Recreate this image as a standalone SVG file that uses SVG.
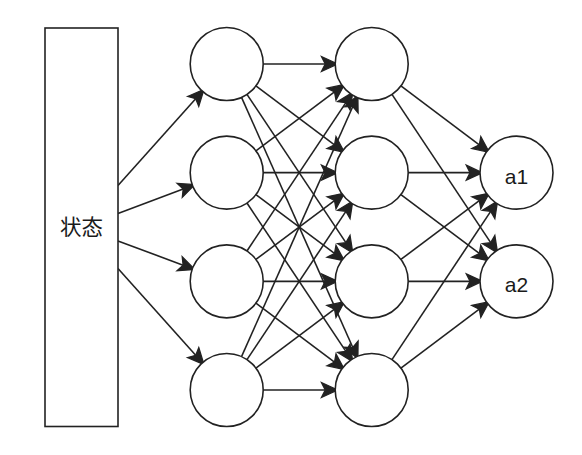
<svg xmlns="http://www.w3.org/2000/svg" width="582" height="455" viewBox="0 0 582 455">
<style>
.n{fill:#fff;stroke:#222;stroke-width:1.6}
.e{fill:none;stroke:#222;stroke-width:1.6;marker-end:url(#ah)}
.t{font-family:"Liberation Sans","Noto Sans CJK SC",Arial,sans-serif;font-size:21px;fill:#1a1a1a;text-anchor:middle}
.c{font-size:21.5px}
</style>
<defs>
<marker id="ah" markerUnits="userSpaceOnUse" markerWidth="20" markerHeight="20" refX="3" refY="0" orient="auto" viewBox="-1 -7 16 14" overflow="visible">
<path d="M0,-6 L13,0 L0,6 L3,0 Z" fill="#222" stroke="#222" stroke-width="1" stroke-linejoin="miter"/>
</marker>
</defs>
<rect width="582" height="455" fill="#fff"/>
<g id="connectors">
<path class="e" d="M118,185.5 L195.69,98.66"/>
<path class="e" d="M118,213.5 L183.16,189.04"/>
<path class="e" d="M118,241 L183.1,265.13"/>
<path class="e" d="M118,268.5 L195.69,355.34"/>
<path class="e" d="M263.2,64 L325.2,64"/>
<path class="e" d="M255.91,85.89 L334.49,144.78"/>
<path class="e" d="M246.96,94.36 L345.89,242.65"/>
<path class="e" d="M241.53,97.35 L352.8,347.51"/>
<path class="e" d="M255.91,150.78 L334.49,91.89"/>
<path class="e" d="M263.2,172.67 L325.2,172.67"/>
<path class="e" d="M255.91,194.56 L334.49,253.44"/>
<path class="e" d="M246.96,203.03 L345.89,351.32"/>
<path class="e" d="M246.96,250.97 L345.89,102.68"/>
<path class="e" d="M255.91,259.44 L334.49,200.56"/>
<path class="e" d="M263.2,281.33 L325.2,281.33"/>
<path class="e" d="M255.91,303.22 L334.49,362.11"/>
<path class="e" d="M241.53,356.65 L352.8,106.49"/>
<path class="e" d="M246.96,359.64 L345.89,211.35"/>
<path class="e" d="M255.91,368.11 L334.49,309.22"/>
<path class="e" d="M263.2,390 L325.2,390"/>
<path class="e" d="M400.91,85.89 L479.29,144.78"/>
<path class="e" d="M391.96,94.36 L490.69,242.65"/>
<path class="e" d="M408.2,172.67 L470,172.67"/>
<path class="e" d="M400.91,194.56 L479.29,253.44"/>
<path class="e" d="M400.91,259.44 L479.29,200.56"/>
<path class="e" d="M408.2,281.33 L470,281.33"/>
<path class="e" d="M391.96,359.64 L490.69,211.35"/>
<path class="e" d="M400.91,368.11 L479.29,309.22"/>
</g>
<g id="state">
<rect class="n" x="45" y="28" width="73" height="398.5"/>
<text class="t c" x="81.5" y="235">状态</text>
</g>
<g id="h1-1"><circle class="n" cx="226.7" cy="64" r="36.5"/></g>
<g id="h1-2"><circle class="n" cx="226.7" cy="172.67" r="36.5"/></g>
<g id="h1-3"><circle class="n" cx="226.7" cy="281.33" r="36.5"/></g>
<g id="h1-4"><circle class="n" cx="226.7" cy="390" r="36.5"/></g>
<g id="h2-1"><circle class="n" cx="371.7" cy="64" r="36.5"/></g>
<g id="h2-2"><circle class="n" cx="371.7" cy="172.67" r="36.5"/></g>
<g id="h2-3"><circle class="n" cx="371.7" cy="281.33" r="36.5"/></g>
<g id="h2-4"><circle class="n" cx="371.7" cy="390" r="36.5"/></g>
<g id="a1"><circle class="n" cx="516.5" cy="172.67" r="36.5"/><text class="t" x="516.5" y="183.5">a1</text></g>
<g id="a2"><circle class="n" cx="516.5" cy="281.33" r="36.5"/><text class="t" x="516.5" y="292">a2</text></g>
</svg>
